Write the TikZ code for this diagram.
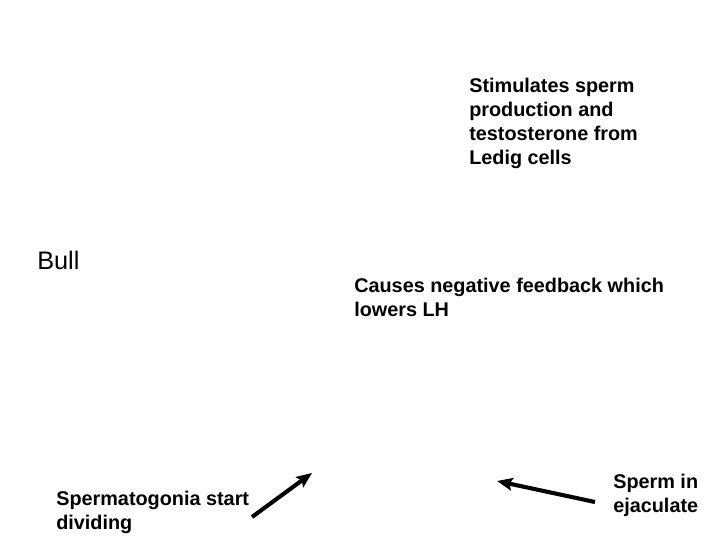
\documentclass[tikz,border=0pt]{standalone}
\usepackage{fontspec}
\setmainfont{Liberation Sans}
\usetikzlibrary{arrows.meta}

\tikzset{
    note/.style={font=\bfseries\fontsize{14.1pt}{17pt}\selectfont, align=left, anchor=north west, inner sep=0pt},
    pointer/.style={line width=2.9pt, -{Stealth[length=11pt,width=9pt,inset=2pt]}}
}

\begin{document}
\begin{tikzpicture}[x=0.025cm,y=-0.025cm]
    % Fix the page size
    \useasboundingbox (0,0) rectangle (720,540);

    % Labels
    \node[note] (stim) at (469,78) {Stimulates sperm\\production and\\testosterone from\\Ledig cells};
    \node[font=\fontsize{18pt}{20pt}\selectfont, anchor=north west, inner sep=0pt] (bull) at (37,251) {Bull};
    \node[note] (neg) at (354,278) {Causes negative feedback which\\lowers LH};
    \node[note] (sgon) at (56,491) {Spermatogonia start\\dividing};
    \node[note] (ejac) at (613,474) {Sperm in\\ejaculate};

    % Arrow ends
    \coordinate (a1) at (252,517);
    \coordinate (b1) at (312,473);
    \coordinate (a2) at (595,502);
    \coordinate (b2) at (497,481);

    % Arrows
    \draw[pointer] (a1) -- (b1);
    \draw[pointer] (a2) -- (b2);

\end{tikzpicture}
\end{document}
